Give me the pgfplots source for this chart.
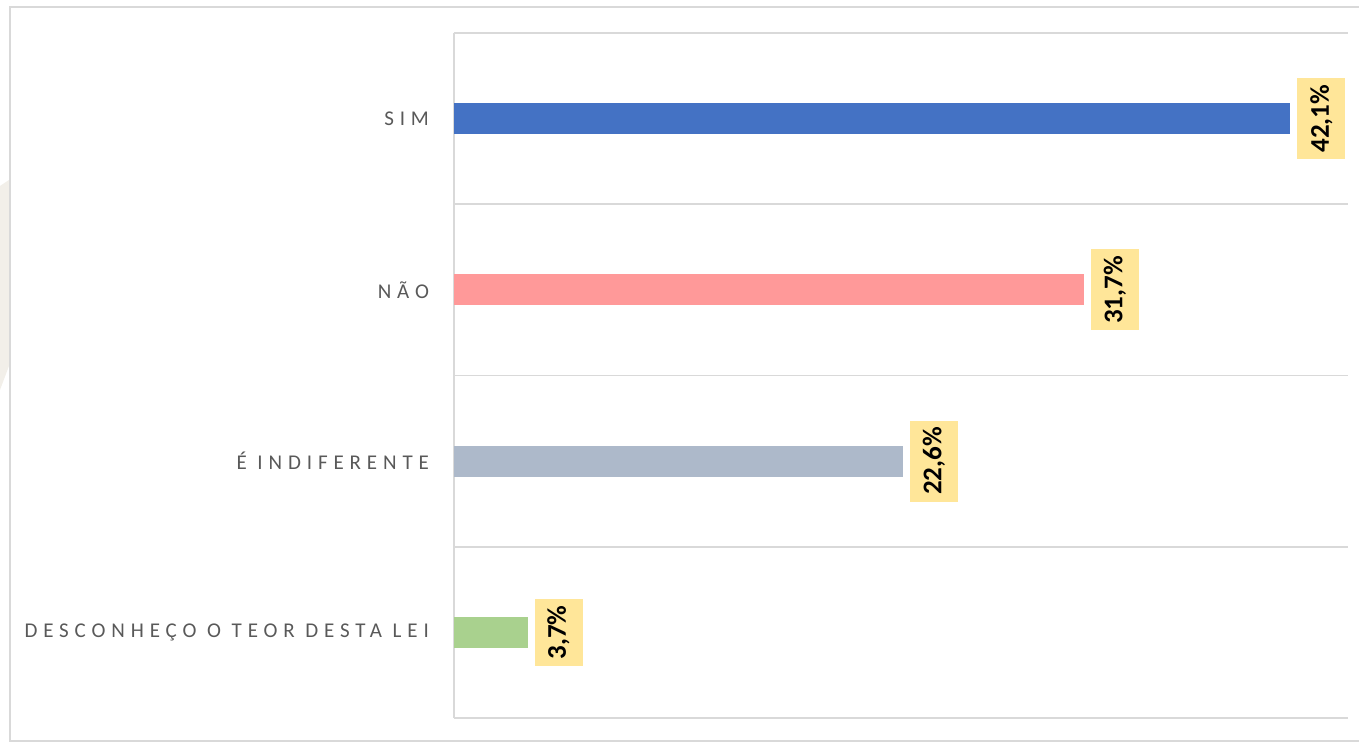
\documentclass[border=0pt]{standalone}
\usepackage{fontspec}
\setmainfont{Carlito}
\usepackage{pgfplots}
\pgfplotsset{compat=1.18}
\definecolor{cblue}{HTML}{4472C4}
\definecolor{cpink}{HTML}{FF9999}
\definecolor{cgray}{HTML}{ADB9CA}
\definecolor{cgreen}{HTML}{A9D18E}
\definecolor{lblbg}{HTML}{FFE699}
\definecolor{gridc}{HTML}{D9D9D9}
\definecolor{txtc}{HTML}{595959}
\definecolor{beige}{HTML}{F2EFE9}
\begin{document}
\begin{tikzpicture}[x=1pt,y=1pt]
\begin{axis}[
  scale only axis,
  width=447pt, height=342.5pt,
  xbar, bar width=15.5pt, bar shift=0pt,
  xmin=0, xmax=45,
  ymin=-0.5, ymax=3.5,
  axis x line=none,
  axis y line=left,
  y axis line style={-, draw=gridc, line width=1pt},
  ytick={0,1,2,3},
  yticklabels={DESCONHEÇO O TEOR DESTA LEI, É INDIFERENTE, NÃO, SIM},
  minor ytick={-0.5,0.5,1.5,2.5,3.5},
  minor grid style={draw=gridc, line width=0.8pt},
  yminorgrids=true,
  major tick length=0pt, minor tick length=0pt,
  yticklabel style={font=\addfontfeatures{LetterSpace=28}\fontsize{10.5}{12}\selectfont, text=txtc, xshift=-9pt},
  /pgf/number format/assume math mode=true,
  nodes near coords={\pgfmathprintnumber[fixed,precision=1,fixed zerofill,use comma]{\pgfplotspointmeta}\%},
  every node near coord/.append style={rotate=90, anchor=north, fill=lblbg, text=black,
     font=\fontsize{13.5}{15}\selectfont\bfseries, inner xsep=3.3pt, minimum height=24pt, outer ysep=3.5pt},
]
\addplot[fill=cblue, draw=none] coordinates {(42.1,3)};
\addplot[fill=cpink, draw=none] coordinates {(31.7,2)};
\addplot[fill=cgray, draw=none] coordinates {(22.6,1)};
\addplot[fill=cgreen, draw=none] coordinates {(3.7,0)};
\end{axis}
\fill[beige] (-227,266) -- (-222.5,269) -- (-222.5,176) -- (-227,164) -- cycle;
\draw[gridc, line width=1pt] (-222,-11.5) rectangle (456,355.5);
\pgfresetboundingbox
\useasboundingbox (-227,-13.5) rectangle (452.5,359);
\end{tikzpicture}
\end{document}
